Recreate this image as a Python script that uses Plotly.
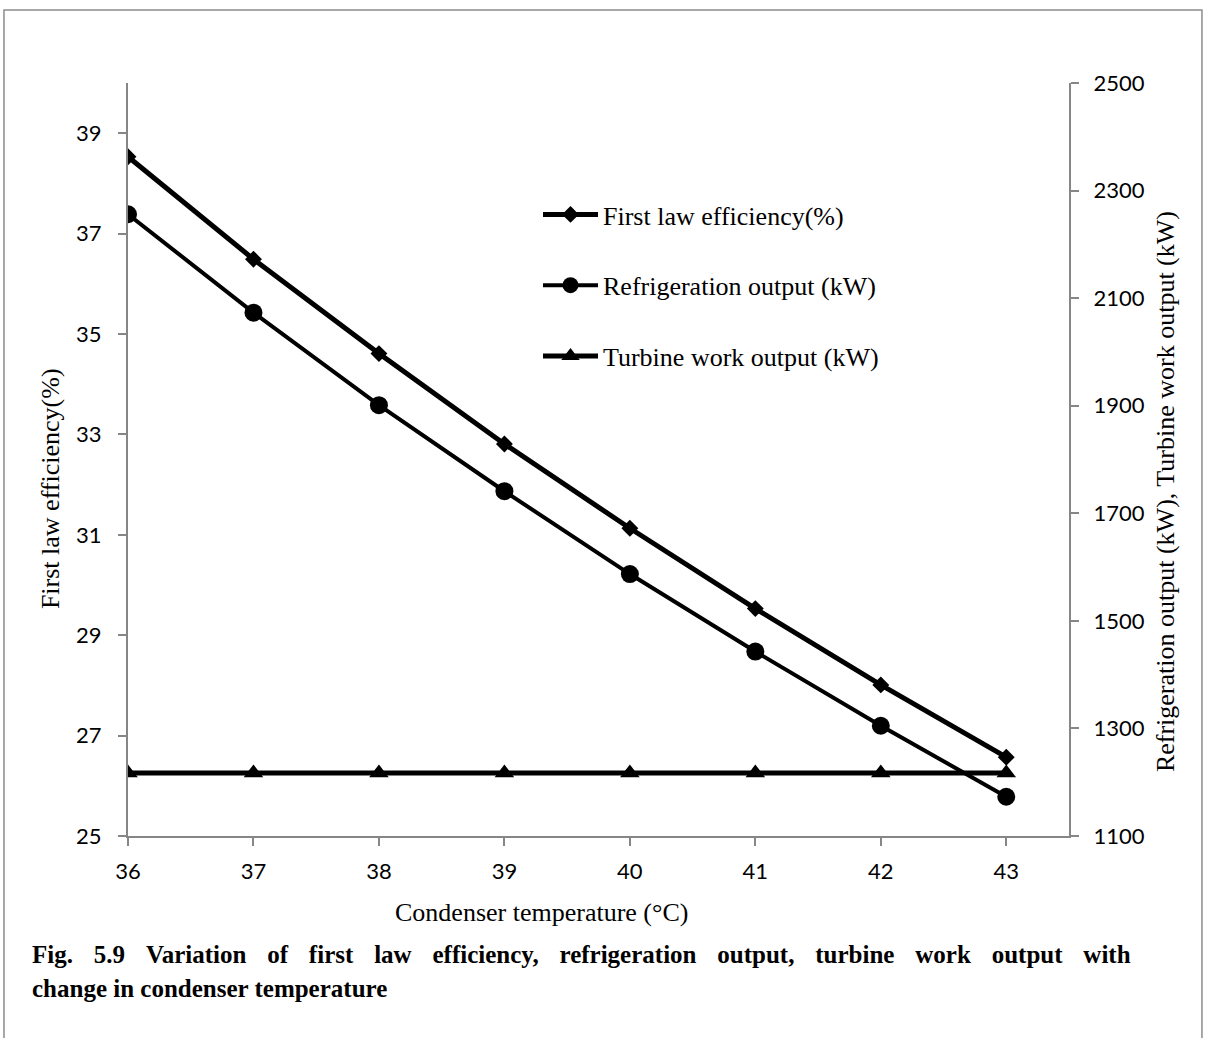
import plotly.graph_objects as go

# Condenser temperature (°C)
condenser_temp = [36, 37, 38, 39, 40, 41, 42, 43]

# First law efficiency (%), left axis
first_law_eff = [38.53, 36.49, 34.61, 32.81, 31.13, 29.53, 28.01, 26.57]

# Refrigeration output (kW), right axis
refrigeration_kw = [2256, 2073, 1901, 1741, 1587, 1443, 1305, 1173]

# Turbine work output (kW), right axis
turbine_kw = [1217, 1217, 1217, 1217, 1217, 1217, 1217, 1217]

left_ticks = [25, 27, 29, 31, 33, 35, 37, 39]
right_ticks = [1100, 1300, 1500, 1700, 1900, 2100, 2300, 2500]

caption_line1 = "Fig. 5.9 Variation of first law efficiency, refrigeration output, turbine work output with"
caption_line2 = "change in condenser temperature"

AXIS_GREY = "#868686"
TICK_FONT = dict(family="Lato, Open Sans, sans-serif", size=22, color="#000000")
SERIF = "Liberation Serif, Times New Roman, serif"
SERIF_SIZE = 26

# justified first caption line: widen each word gap
JUSTIFY_GAP = " \u2002\u200a"
caption1_justified = JUSTIFY_GAP.join(caption_line1.split(" "))

fig = go.Figure()

fig.add_trace(go.Scatter(
    x=condenser_temp, y=first_law_eff, name="First law efficiency(%)",
    mode="lines+markers", yaxis="y", legendgroup="a",
    line=dict(color="black", width=5),
    marker=dict(symbol="diamond", size=13, color="black"),
))
fig.add_trace(go.Scatter(
    x=condenser_temp, y=refrigeration_kw, name="Refrigeration output (kW)",
    mode="lines+markers", yaxis="y2", legendgroup="b",
    line=dict(color="black", width=4),
    marker=dict(symbol="circle", size=18, color="black"),
))
fig.add_trace(go.Scatter(
    x=condenser_temp, y=turbine_kw, name="Turbine work output (kW)",
    mode="lines+markers", yaxis="y2", legendgroup="c",
    line=dict(color="black", width=5),
    marker=dict(symbol="triangle-up", size=17, color="black"),
))

axis_common = dict(
    showgrid=False, zeroline=False,
    showline=True, linecolor=AXIS_GREY, linewidth=2,
    ticks="outside", ticklen=8, tickcolor=AXIS_GREY, tickwidth=2,
    tickfont=TICK_FONT,
)

fig.update_layout(
    width=1206, height=1038,
    margin=dict(l=128, r=137, t=83, b=202),
    paper_bgcolor="white", plot_bgcolor="white",
    showlegend=True,
    legend=dict(
        x=0.4357, y=0.8566, xanchor="left", yanchor="top",
        bgcolor="rgba(0,0,0,0)",
        font=dict(family=SERIF, size=SERIF_SIZE, color="black"),
        tracegroupgap=34, itemwidth=55,
    ),
    xaxis=dict(
        range=[36, 43.5], tickmode="array", tickvals=condenser_temp,
        ticktext=[str(v) for v in condenser_temp],
        ticklabelstandoff=7, **axis_common,
    ),
    yaxis=dict(
        range=[25, 40], tickmode="array", tickvals=left_ticks,
        ticklabelstandoff=12, **axis_common,
    ),
    yaxis2=dict(
        range=[1100, 2500], tickmode="array", tickvals=right_ticks,
        overlaying="y", side="right",
        ticklabelstandoff=10, **axis_common,
    ),
    shapes=[
        # outer frame around the figure and caption
        dict(type="rect", xref="paper", yref="paper",
             x0=-0.1318, x1=1.1413, y0=-0.29, y1=1.097,
             line=dict(color="#8c8c8c", width=1.5), layer="below"),
    ],
    annotations=[
        dict(text="First law efficiency(%)", xref="paper", yref="paper",
             x=-0.0829, y=0.462, textangle=-90, showarrow=False,
             xanchor="center", yanchor="middle",
             font=dict(family=SERIF, size=SERIF_SIZE, color="black")),
        dict(text="Refrigeration output (kW), Turbine work output (kW)",
             xref="paper", yref="paper", x=1.102, y=0.458, textangle=-90,
             showarrow=False, xanchor="center", yanchor="middle",
             font=dict(family=SERIF, size=SERIF_SIZE, color="black")),
        dict(text="Condenser temperature (°C)", xref="paper", yref="paper",
             x=0.4395, y=-0.101, showarrow=False,
             xanchor="center", yanchor="middle",
             font=dict(family=SERIF, size=SERIF_SIZE, color="black")),
        dict(text="<b>" + caption1_justified + "</b>",
             xref="paper", yref="paper", x=-0.104, y=-0.158, showarrow=False,
             xanchor="left", yanchor="middle", align="left",
             font=dict(family=SERIF, size=25, color="black")),
        dict(text="<b>" + caption_line2 + "</b>",
             xref="paper", yref="paper", x=-0.104, y=-0.202, showarrow=False,
             xanchor="left", yanchor="middle", align="left",
             font=dict(family=SERIF, size=25, color="black")),
    ],
)

fig.write_html("out.html")
